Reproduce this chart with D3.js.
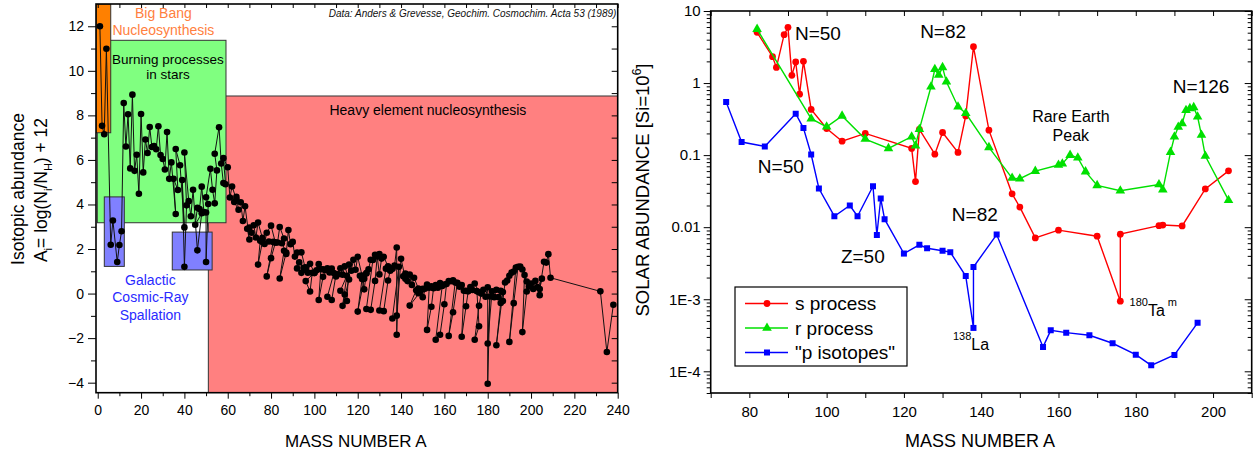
<!DOCTYPE html>
<html>
<head>
<meta charset="utf-8">
<script src="https://cdn.jsdelivr.net/npm/d3@7"></script>
<style>
  body { margin: 0; background: #fff; }
  svg { display: block; font-family: "Liberation Sans", Arial, sans-serif; }
</style>
</head>
<body>
<svg id="chart" width="1253" height="454"></svg>
<script>
// ---------- Left panel: solar isotopic abundances, A_i = log(N_i/N_H) + 12 ----------
// [mass number, abundance], listed element by element, isotopes in increasing A
const isotopes = [
  [1,12.00],[2,7.53],
  [3,7.15],[4,10.99],
  [6,2.19],[7,3.28],
  [9,1.42],
  [10,2.18],[11,2.80],
  [12,8.55],[13,6.60],
  [14,8.05],[15,5.62],
  [16,8.93],[17,5.51],[18,6.23],
  [19,4.48],
  [20,8.06],[21,5.44],[22,6.92],
  [23,6.31],
  [24,7.48],[25,6.58],[26,6.62],
  [27,6.48],
  [28,7.51],[29,6.22],[30,6.04],
  [31,5.57],
  [32,7.25],[33,5.15],[34,5.89],[36,3.57],
  [35,5.15],[37,4.65],
  [36,6.49],[38,5.76],[40,2.97],
  [39,5.10],[40,1.20],[41,3.96],
  [40,6.33],[42,4.15],[43,3.47],[44,4.66],[46,1.94],[48,3.61],
  [45,3.09],
  [46,3.85],[47,3.80],[48,4.80],[49,3.66],[50,3.64],
  [50,1.42],[51,4.02],
  [50,4.32],[52,5.60],[53,4.66],[54,4.05],
  [55,5.53],
  [54,6.28],[56,7.47],[57,5.84],[58,4.96],
  [59,4.91],
  [58,6.08],[60,5.67],[61,4.31],[62,4.81],[64,4.22],
  [63,4.11],[65,3.76],
  [64,4.34],[66,4.10],[67,3.26],[68,3.92],[70,2.43],
  [69,2.91],[71,2.73],
  [70,2.96],[72,3.07],[73,2.52],[74,3.19],[76,2.50],
  [75,2.37],
  [74,1.30],[76,2.32],[77,2.23],[78,2.73],[80,3.05],[82,2.29],
  [79,2.34],[81,2.32],
  [78,0.77],[80,1.59],[82,2.29],[83,2.29],[84,2.99],[86,2.47],
  [85,2.26],[87,1.84],
  [84,0.68],[86,1.92],[87,1.78],[88,2.85],
  [89,2.22],
  [90,2.32],[91,1.66],[92,1.84],[94,1.85],[96,1.06],
  [93,1.40],
  [92,1.13],[94,0.93],[95,1.16],[96,1.18],[97,0.94],[98,1.34],[100,0.94],
  [96,0.56],[98,0.09],[99,0.93],[100,0.92],[101,1.05],[102,1.32],[104,1.09],
  [103,1.09],
  [102,-0.29],[104,0.75],[105,1.05],[106,1.14],[108,1.12],[110,0.77],
  [107,0.95],[109,0.92],
  [106,-0.14],[108,-0.29],[110,0.86],[111,0.87],[112,1.14],[113,0.85],[114,1.22],[116,0.63],
  [113,-0.55],[115,0.80],
  [112,0.13],[114,-0.04],[115,-0.33],[116,1.30],[117,1.03],[118,1.52],[119,1.07],[120,1.65],[122,0.81],[124,0.90],
  [121,0.80],[123,0.67],
  [120,-0.81],[122,0.65],[123,0.19],[124,0.92],[125,1.09],[126,1.52],[128,1.74],[130,1.77],
  [127,1.51],
  [124,-0.69],[126,-0.73],[128,0.57],[129,1.67],[130,0.86],[131,1.57],[132,1.65],[134,1.22],[136,1.13],
  [133,1.12],
  [130,-0.76],[132,-0.79],[134,0.59],[135,1.03],[136,1.11],[137,1.26],[138,2.07],
  [138,-1.85],[139,1.20],
  [136,-1.12],[138,-0.99],[140,1.56],[142,0.66],
  [141,0.78],
  [142,0.90],[143,0.56],[144,0.85],[145,0.39],[146,0.71],[148,0.23],[150,0.22],
  [144,-0.54],[147,0.15],[148,0.02],[149,0.11],[150,-0.16],[152,0.40],[154,0.33],
  [151,0.22],[153,0.26],
  [152,-1.63],[154,-0.59],[155,0.24],[156,0.38],[157,0.26],[158,0.47],[160,0.41],
  [159,0.34],
  [156,-2.07],[158,-1.85],[160,-0.48],[161,0.43],[162,0.56],[163,0.55],[164,0.60],
  [165,0.50],
  [162,-1.90],[164,-0.84],[166,0.48],[167,0.31],[168,0.38],[170,0.12],
  [169,0.13],
  [168,-1.94],[170,-0.57],[171,0.10],[172,0.29],[173,0.16],[174,0.45],[176,0.06],
  [175,0.11],[176,-1.47],
  [174,-2.07],[176,-0.55],[177,0.00],[178,0.17],[179,-0.14],[180,0.28],
  [180,-4.05],[181,-0.13],
  [180,-2.24],[182,0.10],[183,-0.16],[184,0.17],[186,0.13],
  [185,-0.16],[187,0.07],
  [184,-2.32],[186,-0.42],[187,-0.33],[188,0.50],[189,0.59],[190,0.80],[192,0.99],
  [191,0.94],[193,1.17],
  [190,-2.17],[192,-0.43],[194,1.20],[195,1.21],[196,1.08],[198,0.54],
  [197,0.83],
  [196,-1.73],[198,0.09],[199,0.32],[200,0.45],[201,0.21],[202,0.57],[204,-0.07],
  [203,0.29],[205,0.67],
  [204,0.20],[206,1.43],[207,1.39],[208,1.77],
  [209,0.71],
  [232,0.10],
  [235,-2.62],[238,-0.50]
];

// Nucleosynthesis regions: mass-number span and abundance span
const regionNames = ["heavy", "burning", "bigbang", "spallLight", "spallMid"];
const regionMass  = [[51.05, 240], [-0.2, 59.2], [-0.8, 6.0], [3.03, 12.26], [34.4, 52.8]];
const regionAbund = [[-4.45, 8.87], [3.18, 11.37], [7.22, 13], [1.22, 4.34], [1.06, 2.76]];

const leftMassTicks  = d3.range(0, 241, 20);
const leftMassMinor  = d3.range(10, 241, 20);
const leftAbundTicks = d3.range(-4, 13, 2);
const leftAbundMinor = d3.range(-3, 13, 2);

// ---------- Right panel: s, r and p contributions ----------
const sMass  = [82, 86, 87, 89, 90, 91, 92, 93, 94, 96, 100, 104, 110, 122, 123, 124, 128, 130,
                134, 136, 138, 142, 148, 150, 154, 160, 170, 176, 176, 186, 187, 192, 198, 204];
const sAbund = [5.06, 2.32, 1.65, 4.69, 5.93, 1.28, 1.96, 0.70, 2.0, 0.43, 0.234, 0.156, 0.20, 0.124,
                0.043, 0.228, 0.103, 0.206, 0.109, 0.35, 3.19, 0.222, 0.029, 0.019, 0.0071, 0.0091,
                0.0075, 0.00094, 0.0080, 0.0105, 0.0107, 0.0104, 0.034, 0.0605];

const rMass  = [82, 96, 100, 104, 110, 116, 122, 123, 124, 127, 128, 129, 130, 131, 134, 136, 142, 148,
                150, 154, 160, 161, 163, 165, 167, 170, 176, 186, 187, 189, 190, 191, 192, 193, 194,
                195, 196, 197, 198, 204];
const rAbund = [5.6, 0.32, 0.247, 0.35, 0.167, 0.124, 0.18, 0.135, 0.228, 0.89, 1.55, 1.29, 1.65, 1.04,
                0.47, 0.38, 0.128, 0.048, 0.047, 0.060, 0.073, 0.076, 0.100, 0.092, 0.059, 0.038, 0.032,
                0.039, 0.033, 0.110, 0.18, 0.245, 0.275, 0.42, 0.445, 0.46, 0.34, 0.19, 0.097, 0.0237];

const pMass  = [74, 78, 84, 92, 94, 96, 98, 102, 106, 108, 112, 113, 114, 115, 120, 124, 126, 130, 132,
                136, 138, 138, 144, 156, 158, 162, 168, 174, 180, 184, 190, 196];
const pAbund = [0.545, 0.152, 0.132, 0.375, 0.237, 0.102, 0.0344, 0.0142, 0.020, 0.0142, 0.037, 0.0078,
                0.025, 0.0129, 0.0043, 0.0057, 0.0051, 0.0047, 0.0045, 0.0021, 0.00040, 0.0028, 0.0079,
                0.000218, 0.00037, 0.000344, 0.000316, 0.000245, 0.00017, 0.000121, 0.000169, 0.00047];

const seriesNames = ["s process", "r process", "\"p isotopes\""];

const rightMassTicks  = d3.range(80, 201, 20);
const rightMassMinor  = [70, 90, 110, 130, 150, 170, 190, 210];
const rightAbundTicks = [1e-4, 1e-3, 1e-2, 1e-1, 1, 10];
const rightAbundLabels = ["1E-4", "1E-3", "0.01", "0.1", "1", "10"];

// ---------- drawing ----------
const svg = d3.select("#chart");

const regionFill = {
  heavy: "#ff8080", burning: "#80ff80", bigbang: "#ff8000",
  spallLight: "#8080ff", spallMid: "#8080ff"
};
const seriesColor = ["#ff0000", "#00e000", "#0000ff"];

function styleAxis(g, size) {
  g.select(".domain").remove();
  g.selectAll(".tick line").attr("stroke", "#000").attr("stroke-width", 1);
  g.selectAll(".tick text").attr("font-size", size).attr("fill", "#000")
    .attr("font-family", '"Liberation Sans", Arial, sans-serif');
}

// ===== Left panel =====
const PL = { left: 96, right: 617.7, top: 4, bottom: 392.7 };
const xL = d3.scaleLinear().domain([-0.8, 240]).range([PL.left, PL.right]);
const yL = d3.scaleLinear().domain([-4.45, 13]).range([PL.bottom, PL.top]);

svg.append("clipPath").attr("id", "clipL").append("rect")
  .attr("x", PL.left).attr("y", PL.top)
  .attr("width", PL.right - PL.left).attr("height", PL.bottom - PL.top);

const gL = svg.append("g").attr("clip-path", "url(#clipL)");

gL.selectAll("rect.region")
  .data(regionNames)
  .join("rect")
  .attr("class", "region")
  .attr("x", (d, i) => xL(regionMass[i][0]))
  .attr("width", (d, i) => xL(regionMass[i][1]) - xL(regionMass[i][0]))
  .attr("y", (d, i) => yL(regionAbund[i][1]))
  .attr("height", (d, i) => yL(regionAbund[i][0]) - yL(regionAbund[i][1]))
  .attr("fill", d => regionFill[d])
  .attr("stroke", "#333")
  .attr("stroke-width", 1);

gL.append("path")
  .datum(isotopes)
  .attr("fill", "none")
  .attr("stroke", "#111")
  .attr("stroke-width", 1)
  .attr("d", d3.line().x(d => xL(d[0])).y(d => yL(d[1])));

gL.selectAll("circle.iso")
  .data(isotopes)
  .join("circle")
  .attr("class", "iso")
  .attr("cx", d => xL(d[0]))
  .attr("cy", d => yL(d[1]))
  .attr("r", 3.3)
  .attr("fill", "#000");

// region captions
function leftText(lines, a, v, opts) {
  const t = svg.append("text")
    .attr("x", xL(a)).attr("y", yL(v))
    .attr("text-anchor", opts.anchor || "middle")
    .attr("font-size", opts.size)
    .attr("fill", opts.color);
  if (opts.italic) t.attr("font-style", "italic");
  lines.forEach((s, i) => {
    t.append("tspan").attr("x", xL(a)).attr("dy", i === 0 ? 0 : opts.lead).text(s);
  });
}
leftText(["Big Bang", "Nucleosynthesis"], 30.3, 12.36, { size: 14, color: "#ff8040", lead: 16.7 });
leftText(["Burning processes", "in stars"], 32.4, 10.31, { size: 13.5, color: "#000", lead: 15 });
leftText(["Heavy element nucleosynthesis"], 152.4, 8.02, { size: 14, color: "#000" });
leftText(["Galactic", "Cosmic-Ray", "Spallation"], 24.3, 0.39, { size: 14, color: "#2a2aff", lead: 17.5 });
leftText(["Data: Anders & Grevesse, Geochim. Cosmochim. Acta 53 (1989)"], 239.4, 12.40,
  { size: 10, color: "#111", anchor: "end", italic: true });

// frame
svg.append("rect")
  .attr("x", PL.left).attr("y", PL.top)
  .attr("width", PL.right - PL.left).attr("height", PL.bottom - PL.top)
  .attr("fill", "none").attr("stroke", "#000").attr("stroke-width", 1.6);

// axes
svg.append("g").attr("transform", `translate(0,${PL.bottom})`)
  .call(d3.axisBottom(xL).tickValues(leftMassTicks).tickSize(6).tickPadding(6))
  .call(g => styleAxis(g, 14));
svg.append("g").attr("transform", `translate(0,${PL.bottom})`)
  .call(d3.axisBottom(xL).tickValues(leftMassMinor).tickSize(3.5).tickFormat(""))
  .call(g => styleAxis(g, 14));
svg.append("g").attr("transform", `translate(0,${PL.top})`)
  .call(d3.axisTop(xL).tickValues(d3.range(0, 241, 10)).tickSize(-4).tickFormat(""))
  .call(g => styleAxis(g, 14));
svg.append("g").attr("transform", `translate(${PL.left},0)`)
  .call(d3.axisLeft(yL).tickValues(leftAbundTicks).tickSize(8).tickPadding(4))
  .call(g => styleAxis(g, 14));
svg.append("g").attr("transform", `translate(${PL.left},0)`)
  .call(d3.axisLeft(yL).tickValues(leftAbundMinor).tickSize(5).tickFormat(""))
  .call(g => styleAxis(g, 14));
svg.append("g").attr("transform", `translate(${PL.right},0)`)
  .call(d3.axisRight(yL).tickValues(d3.range(-4, 13, 1)).tickSize(-6).tickFormat(""))
  .call(g => styleAxis(g, 14));

// axis titles
svg.append("text")
  .attr("x", (PL.left + PL.right) / 2 - 1).attr("y", 447)
  .attr("text-anchor", "middle").attr("font-size", 17).text("MASS NUMBER A");

const yt1 = svg.append("text")
  .attr("transform", "translate(24,189) rotate(-90)")
  .attr("text-anchor", "middle").attr("font-size", 17.5)
  .text("Isotopic abundance");
const yt2 = svg.append("text")
  .attr("transform", "translate(47,190) rotate(-90)")
  .attr("text-anchor", "middle").attr("font-size", 17.5);
[["A", 0], ["i", 1], ["= log(N", 0], ["i", 1], ["/N", 0], ["H", 1], [") + 12", 0]]
  .reduce((prev, [s, sub]) => {
    yt2.append("tspan")
      .attr("dy", sub === prev ? 0 : (sub ? 5 : -5))
      .attr("font-size", sub ? 11 : 17.5)
      .text(s);
    return sub;
  }, 0);

// ===== Right panel =====
const PR = { left: 710.7, right: 1251.7, top: 11, bottom: 393 };
const xR = d3.scaleLinear().domain([70, 210]).range([PR.left, PR.right]);
const yR = d3.scaleLog().domain([5e-5, 10]).range([PR.bottom, PR.top]);

svg.append("clipPath").attr("id", "clipR").append("rect")
  .attr("x", PR.left).attr("y", PR.top)
  .attr("width", PR.right - PR.left).attr("height", PR.bottom - PR.top);

const gR = svg.append("g").attr("clip-path", "url(#clipR)");

const seriesMass  = [sMass, rMass, pMass];
const seriesAbund = [sAbund, rAbund, pAbund];
const seriesSymbol = [d3.symbolCircle, d3.symbolTriangle, d3.symbolSquare];
const seriesSymbolSize = [36, 40, 36];

const lineR = d3.line().x(d => xR(d[0])).y(d => yR(d[1]));

seriesNames.forEach((name, k) => {
  const pts = seriesMass[k].map((m, i) => [m, seriesAbund[k][i]]);
  gR.append("path").datum(pts)
    .attr("fill", "none")
    .attr("stroke", seriesColor[k])
    .attr("stroke-width", 1.4)
    .attr("d", lineR);
  gR.selectAll(`path.mk${k}`)
    .data(pts)
    .join("path")
    .attr("class", `mk${k}`)
    .attr("transform", d => `translate(${xR(d[0])},${yR(d[1])})`)
    .attr("d", d3.symbol(seriesSymbol[k]).size(seriesSymbolSize[k]))
    .attr("fill", seriesColor[k]);
});

// frame
svg.append("rect")
  .attr("x", PR.left).attr("y", PR.top)
  .attr("width", PR.right - PR.left).attr("height", PR.bottom - PR.top)
  .attr("fill", "none").attr("stroke", "#000").attr("stroke-width", 1.6);

const minorLog = [];
for (let e = -5; e <= 0; e++) for (let m = 2; m <= 9; m++) {
  const v = m * Math.pow(10, e);
  if (v >= 5e-5 && v <= 10) minorLog.push(v);
}

svg.append("g").attr("transform", `translate(0,${PR.bottom})`)
  .call(d3.axisBottom(xR).tickValues(rightMassTicks).tickSize(5).tickPadding(8))
  .call(g => styleAxis(g, 15));
svg.append("g").attr("transform", `translate(0,${PR.bottom})`)
  .call(d3.axisBottom(xR).tickValues(rightMassMinor).tickSize(5).tickFormat(""))
  .call(g => styleAxis(g, 15));
svg.append("g").attr("transform", `translate(0,${PR.top})`)
  .call(d3.axisTop(xR).tickValues(d3.range(70, 211, 10)).tickSize(-5).tickFormat(""))
  .call(g => styleAxis(g, 15));
svg.append("g").attr("transform", `translate(${PR.left},0)`)
  .call(d3.axisLeft(yR).tickValues(rightAbundTicks)
    .tickFormat((d, i) => rightAbundLabels[i]).tickSize(7).tickPadding(3))
  .call(g => styleAxis(g, 15));
svg.append("g").attr("transform", `translate(${PR.left},0)`)
  .call(d3.axisLeft(yR).tickValues(minorLog).tickSize(4).tickFormat(""))
  .call(g => styleAxis(g, 15));
svg.append("g").attr("transform", `translate(${PR.right},0)`)
  .call(d3.axisRight(yR).tickValues(rightAbundTicks).tickSize(-7).tickFormat(""))
  .call(g => styleAxis(g, 15));
svg.append("g").attr("transform", `translate(${PR.right},0)`)
  .call(d3.axisRight(yR).tickValues(minorLog).tickSize(-4).tickFormat(""))
  .call(g => styleAxis(g, 15));

// annotations placed in data space
function rightText(str, a, v, size, anchor) {
  return svg.append("text")
    .attr("x", xR(a)).attr("y", yR(v))
    .attr("text-anchor", anchor || "start")
    .attr("font-size", size).attr("fill", "#000").text(str);
}
rightText("N=50", 91.8, 3.96, 19);
rightText("N=82", 124.2, 4.22, 19);
rightText("N=126", 189.6, 0.728, 19);
rightText("Rare Earth", 163.2, 0.288, 16, "middle");
rightText("Peak", 163.2, 0.157, 16, "middle");
rightText("N=50", 82.2, 0.0565, 19);
rightText("N=82", 132.4, 0.0122, 19);
rightText("Z=50", 103.7, 0.00318, 19);

const la = svg.append("text").attr("x", xR(132.7)).attr("y", yR(1.98e-4)).attr("font-size", 16);
la.append("tspan").attr("dy", -10).attr("font-size", 11).text("138");
la.append("tspan").attr("dy", 10).text("La");

const ta = svg.append("text").attr("x", xR(178.4)).attr("y", yR(5.85e-4)).attr("font-size", 16);
ta.append("tspan").attr("dy", -10).attr("font-size", 11).text("180");
ta.append("tspan").attr("dy", 10).text("Ta");
ta.append("tspan").attr("dy", -10).attr("dx", 3).attr("font-size", 11).text("m");

// legend
const leg = svg.append("g").attr("transform", "translate(735,287)");
leg.append("rect").attr("width", 172).attr("height", 79)
  .attr("fill", "#fff").attr("stroke", "#000").attr("stroke-width", 1.2);
seriesNames.forEach((name, k) => {
  const yy = 16.5 + k * 24.5;
  leg.append("line").attr("x1", 10).attr("x2", 53).attr("y1", yy).attr("y2", yy)
    .attr("stroke", seriesColor[k]).attr("stroke-width", 1.4);
  leg.append("path").attr("transform", `translate(32,${yy})`)
    .attr("d", d3.symbol(seriesSymbol[k]).size(seriesSymbolSize[k]))
    .attr("fill", seriesColor[k]);
  leg.append("text").attr("x", 60).attr("y", yy + 6.5).attr("font-size", 19).text(name);
});

// axis titles
svg.append("text")
  .attr("x", 980).attr("y", 447)
  .attr("text-anchor", "middle").attr("font-size", 18).text("MASS NUMBER A");

const yr = svg.append("text")
  .attr("transform", "translate(649,190) rotate(-90)")
  .attr("text-anchor", "middle").attr("font-size", 18.5);
yr.append("tspan").text("SOLAR ABUNDANCE [Si=10");
yr.append("tspan").attr("dy", -8).attr("font-size", 12).text("6");
yr.append("tspan").attr("dy", 8).text("]");
</script>
</body>
</html>
